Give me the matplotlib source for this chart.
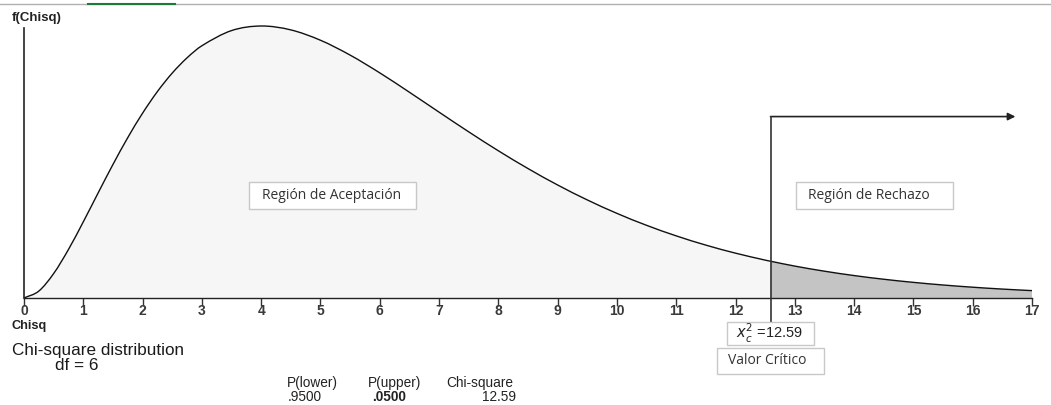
import matplotlib
matplotlib.use("Agg")
import matplotlib.pyplot as plt
from matplotlib.path import Path
from matplotlib.patches import PathPatch

# chi-square density (df = 6)
chisq = [0, 0.25, 0.5, 0.75, 1, 1.25, 1.5, 1.75, 2, 2.25, 2.5, 2.75, 3, 3.5, 4, 4.5,
         5, 5.5, 6, 6.5, 7, 7.5, 8, 8.5, 9, 9.5, 10, 10.5, 11, 11.5, 12, 12.5, 12.59,
         13, 13.5, 14, 14.5, 15, 15.5, 16, 16.5, 17]
density = [0, 0.00345, 0.01217, 0.02416, 0.03791, 0.05227, 0.06643, 0.07980, 0.09197,
           0.10273, 0.11192, 0.11951, 0.12551, 0.13306, 0.13534, 0.13340, 0.12825,
           0.12086, 0.11202, 0.10238, 0.09248, 0.08268, 0.07326, 0.06441, 0.05623,
           0.04880, 0.04211, 0.03616, 0.03091, 0.02631, 0.02231, 0.01885, 0.01830,
           0.01588, 0.01334, 0.01117, 0.00933, 0.00778, 0.00647, 0.00537, 0.00444,
           0.00367]
critical = 12.59
xticks = list(range(0, 18))
p_lower = ".9500"
p_upper = ".0500"

W, H = 1051, 405
fig = plt.figure(figsize=(W / 100, H / 100), dpi=100)


def fx(x):
    return x / W


def fy(y):
    return 1 - y / H


def smooth_path(xs, ys):
    # Catmull-Rom through the points, drawn as cubic Bezier segments
    verts = [(xs[0], ys[0])]
    codes = [Path.MOVETO]
    n = len(xs)
    for i in range(n - 1):
        x0, y0 = (xs[i - 1], ys[i - 1]) if i > 0 else (xs[i], ys[i])
        x1, y1 = xs[i], ys[i]
        x2, y2 = xs[i + 1], ys[i + 1]
        x3, y3 = (xs[i + 2], ys[i + 2]) if i + 2 < n else (x2, y2)
        h = x2 - x1
        t1 = ((y2 - y0) / (x2 - x0)) if x2 != x0 else 0
        t2 = ((y3 - y1) / (x3 - x1)) if x3 != x1 else 0
        verts += [(x1 + h / 3, y1 + t1 * h / 3), (x2 - h / 3, y2 - t2 * h / 3), (x2, y2)]
        codes += [Path.CURVE4] * 3
    return verts, codes


def area_patch(xs, ys, color):
    verts, codes = smooth_path(xs, ys)
    verts = verts + [(xs[-1], 0), (xs[0], 0), (xs[0], ys[0])]
    codes = codes + [Path.LINETO, Path.LINETO, Path.CLOSEPOLY]
    return PathPatch(Path(verts, codes), facecolor=color, edgecolor="none", zorder=1)


ax = fig.add_axes([fx(24), fy(298), fx(1032) - fx(24), fy(26) - fy(298)])
ax.set_xlim(0, 17)
ax.set_ylim(0, max(density))
for s in ["top", "right", "left"]:
    ax.spines[s].set_visible(False)
ax.spines["bottom"].set_color("#222222")
ax.spines["bottom"].set_linewidth(1.0)
ax.set_yticks([])
ax.set_xticks(xticks)
ax.set_xticklabels([str(t) for t in xticks], fontsize=10, fontweight="bold",
                   family="Liberation Sans", color="#3a3a3a")
ax.tick_params(axis="x", length=6, width=1, color="#333333", pad=-1.5)
ax.patch.set_alpha(0)

acc_x = [x for x in chisq if x <= critical]
acc_y = density[:len(acc_x)]
rej_x = [x for x in chisq if x >= critical]
rej_y = density[len(chisq) - len(rej_x):]
ax.add_patch(area_patch(acc_x, acc_y, "#f6f6f6"))
ax.add_patch(area_patch(rej_x, rej_y, "#c4c4c4"))
verts, codes = smooth_path(chisq, density)
ax.add_patch(PathPatch(Path(verts, codes), facecolor="none", edgecolor="#111111",
                       lw=1.0, clip_on=False, zorder=3))

# y axis line
fig.add_artist(plt.Line2D([fx(24), fx(24)], [fy(298), fy(28)], color="#222222", lw=1.2))
fig.text(fx(12), fy(18), "f(Chisq)", fontsize=9.5, fontweight="bold",
         family="Liberation Sans", va="center", color="#222222")
fig.text(fx(12), fy(326), "Chisq", fontsize=9.2, fontweight="bold",
         family="Liberation Sans", va="center", color="#222222")

# top rule
fig.add_artist(plt.Line2D([0, 1], [fy(4), fy(4)], color="#b0b0b0", lw=1.0))
fig.add_artist(plt.Line2D([fx(88), fx(175)], [fy(4), fy(4)], color="#1e7a3a", lw=1.5))

# critical value line and arrow
trans = ax.get_xaxis_transform()
ax.plot([critical, critical], [-0.12, 0.667], transform=trans, color="#333333",
        lw=1.2, clip_on=False, zorder=4)
ax.annotate("", xy=(16.72, 0.667), xytext=(critical, 0.667), xycoords=trans,
            textcoords=trans,
            arrowprops=dict(arrowstyle="-|>", color="#222222", lw=1.2,
                            mutation_scale=11, shrinkA=0, shrinkB=0))


def box(x0, y0, x1, y1, text, tx, **kw):
    fig.add_artist(plt.Rectangle((fx(x0), fy(y1)), fx(x1) - fx(x0), fy(y0) - fy(y1),
                                 facecolor="white", edgecolor="#c8c8c8", lw=1.0,
                                 transform=fig.transFigure, zorder=5))
    fig.text(fx(tx), fy((y0 + y1) / 2), text, va="center", ha="left", zorder=6, **kw)


box(249, 182, 416, 209, "Región de Aceptación", 262, fontsize=10,
    family="Open Sans", color="#333333")
box(796, 182, 953, 209, "Región de Rechazo", 808, fontsize=10,
    family="Open Sans", color="#333333")
box(727, 322, 814, 345, r"$x_c^2$ =" + f"{critical:.2f}", 736, fontsize=10.5,
    family="Liberation Sans", color="#222222")
box(717, 348, 824, 374, "Valor Crítico", 728, fontsize=10,
    family="Open Sans", color="#333333")

fig.text(fx(12), fy(351), "Chi-square distribution", fontsize=12.3,
         family="Liberation Sans", va="center", color="#1a1a1a")
fig.text(fx(55), fy(366), "df = 6", fontsize=12.3,
         family="Liberation Sans", va="center", color="#1a1a1a")

small = dict(fontsize=9.8, family="Liberation Sans", va="center", color="#222222")
fig.text(fx(287), fy(383), "P(lower)", **small)
fig.text(fx(288), fy(397), p_lower, **small)
fig.text(fx(368), fy(383), "P(upper)", **small)
fig.text(fx(372), fy(397), p_upper, fontweight="bold", **small)
fig.text(fx(446), fy(383), "Chi-square", **small)
fig.text(fx(516), fy(397), f"{critical:.2f}", ha="right", **small)

fig.savefig("out.png", dpi=100)
